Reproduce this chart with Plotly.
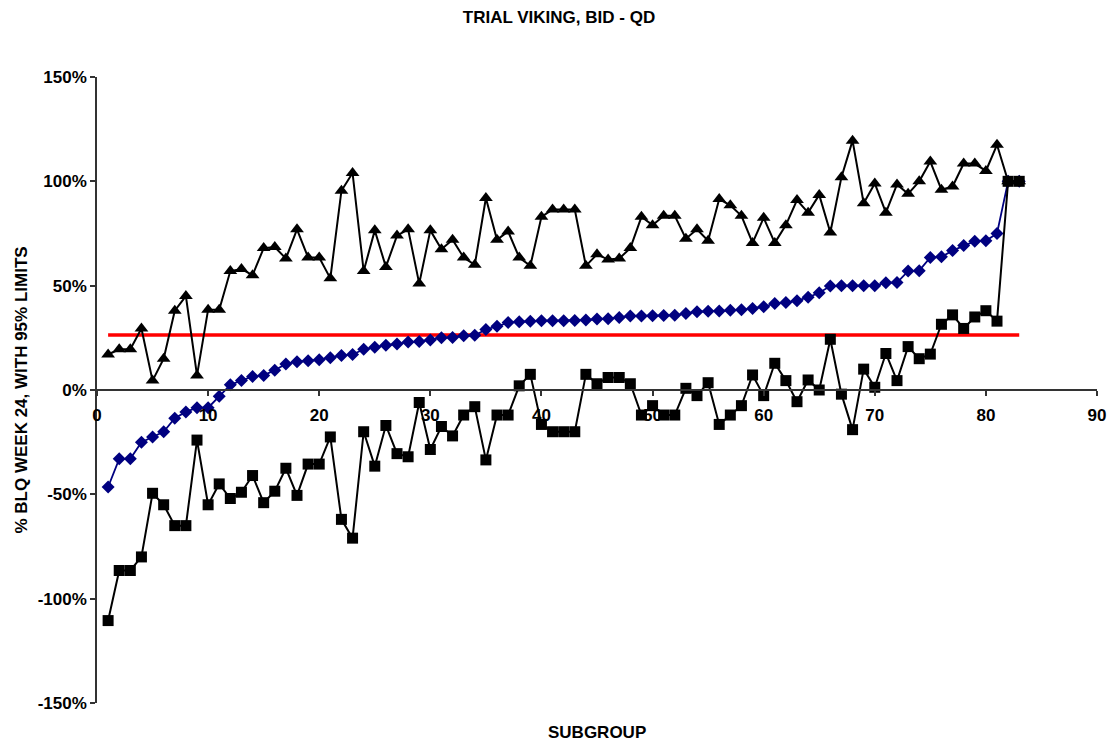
import plotly.graph_objects as go

subgroup = list(range(1, 84))

upper_limit = [17, 19.5, 19.5, 29.5, 4.5, 15, 38, 45, 7, 38.5,
               38.5, 57, 58, 55, 68, 68.5, 63, 77, 63.5, 63.5,
               53.5, 95.5, 104, 57, 76.5, 59, 74, 77, 51, 76.5,
               67.5, 72, 63.5, 60, 92, 72, 76, 63.5, 59.5, 83,
               86.5, 86.5, 86.5, 59.5, 65, 62.5, 63, 68, 83, 79,
               83.5, 83.5, 72.5, 77, 71.5, 91.5, 88.5, 83.5, 70.5, 82.5,
               70.5, 79, 91, 85, 93.5, 75.5, 102, 119.5, 89.5, 99,
               85, 98.5, 94, 100, 109.5, 96, 97.5, 108.5, 108.5, 105,
               117.5, 100, 100]

estimate = [-46.5, -33, -33, -25, -22.5, -20, -13.5, -10.5, -8.5, -8.5,
            -3, 2.5, 4.5, 6.5, 7, 9.5, 12.5, 13.5, 14, 14.5,
            15.5, 16.5, 17, 19.5, 20.5, 21.5, 22, 23, 23.2, 24,
            25, 25.2, 26, 26.2, 29, 30.5, 32.3, 32.7, 33, 33.2,
            33.2, 33.2, 33.3, 33.5, 34, 34.2, 34.7, 35.5, 35.5, 35.6,
            35.7, 35.8, 36.7, 37.5, 37.7, 37.8, 38.2, 38.4, 39.1, 39.9,
            41.5, 41.9, 42.8, 44.4, 46.6, 49.8, 50, 50, 50, 50,
            51.4, 51.5, 57, 57.2, 63.5, 63.8, 66.8, 69.2, 71.3, 71.5,
            75, 100, 100]

lower_limit = [-110.5, -86.5, -86.5, -80, -49.5, -55, -65, -65, -24, -55,
               -45, -52, -49, -41, -54, -48.5, -37.5, -50.5, -35.5, -35.5,
               -22.5, -62, -71, -20, -36.5, -17, -30.5, -32, -6, -28.5,
               -17.5, -22, -12, -8, -33.5, -12, -12, 2, 7.5, -16.5,
               -20, -20, -20, 7.5, 3, 6, 6, 3, -12, -7.5,
               -12, -12, 0.8, -2.7, 3.5, -16.5, -12, -7.5, 7.2, -2.7,
               12.8, 4.5, -5.6, 4.8, 0, 24.3, -2, -19, 10, 1.3,
               17.5, 4.5, 20.8, 15, 17.2, 31.5, 36, 29.5, 35, 38,
               33, 100, 100]

ref_x = [1, 83]
ref_level = [26.4, 26.4]

x_tick_vals = [0, 10, 20, 30, 40, 50, 60, 70, 80, 90]
x_tick_text = ["0", "10", "20", "30", "40", "50", "60", "70", "80", "90"]
y_tick_vals = [-150, -100, -50, 0, 50, 100, 150]
y_tick_text = ["-150%", "-100%", "-50%", "0%", "50%", "100%", "150%"]

FONT = "Liberation Sans, Arial, sans-serif"
FS = 17

fig = go.Figure()
fig.add_trace(go.Scatter(x=ref_x, y=ref_level, mode="lines",
                         line=dict(color="#ff0000", width=3.5), hoverinfo="skip"))
fig.add_trace(go.Scatter(x=subgroup, y=estimate, mode="lines+markers",
                         line=dict(color="#000080", width=1.8),
                         marker=dict(symbol="diamond", size=10, color="#000080")))
fig.add_trace(go.Scatter(x=subgroup, y=upper_limit, mode="lines+markers",
                         line=dict(color="black", width=2),
                         marker=dict(symbol="triangle-up", size=12, color="black")))
fig.add_trace(go.Scatter(x=subgroup, y=lower_limit, mode="lines+markers",
                         line=dict(color="black", width=2),
                         marker=dict(symbol="square", size=11, color="black")))

W, H = 1118, 746
ML, MR, MT, MB = 97, 14, 77, 43

fig.update_layout(
    width=W, height=H,
    margin=dict(l=ML, r=MR, t=MT, b=MB),
    paper_bgcolor="white", plot_bgcolor="white",
    showlegend=False,
    font=dict(family=FONT, size=FS, color="black"),
    title=dict(text="<b>TRIAL VIKING, BID - QD</b>", x=0.5, xref="container",
               xanchor="center", y=1 - 17 / H, yref="container", yanchor="middle",
               font=dict(family=FONT, size=FS, color="black")),
    xaxis=dict(range=[0, 90], tickvals=x_tick_vals,
               ticktext=["<b>%s</b>" % t for t in x_tick_text],
               showgrid=False, zeroline=False, showline=True,
               linecolor="#333333", linewidth=1.5,
               ticks="outside", ticklen=5, tickcolor="#333333", tickwidth=1.5,
               anchor="free", position=0.5, ticklabelstandoff=5,
               tickfont=dict(family=FONT, size=FS, color="black")),
    yaxis=dict(range=[-150, 150], tickvals=y_tick_vals,
               ticktext=["<b>%s</b>" % t for t in y_tick_text],
               showgrid=False, zeroline=False, showline=True,
               linecolor="#333333", linewidth=1.5,
               ticks="outside", ticklen=5, tickcolor="#333333", tickwidth=1.5,
               tickfont=dict(family=FONT, size=FS, color="black")),
    annotations=[
        dict(text="<b>SUBGROUP</b>", x=0.5, xref="paper",
             y=(H - MB - 732) / (H - MT - MB), yref="paper",
             showarrow=False, font=dict(family=FONT, size=FS, color="black"),
             xanchor="center", yanchor="middle"),
        dict(text="<b>% BLQ WEEK 24, WITH 95% LIMITS</b>", textangle=-90,
             x=(20 - ML) / (W - ML - MR), xref="paper", y=0.5, yref="paper",
             showarrow=False, font=dict(family=FONT, size=FS, color="black"),
             xanchor="center", yanchor="middle"),
    ],
)

fig.write_html("out.html",
               config={"displayModeBar": False},
               post_script="document.body.style.margin='0px';document.body.style.padding='0px';")
